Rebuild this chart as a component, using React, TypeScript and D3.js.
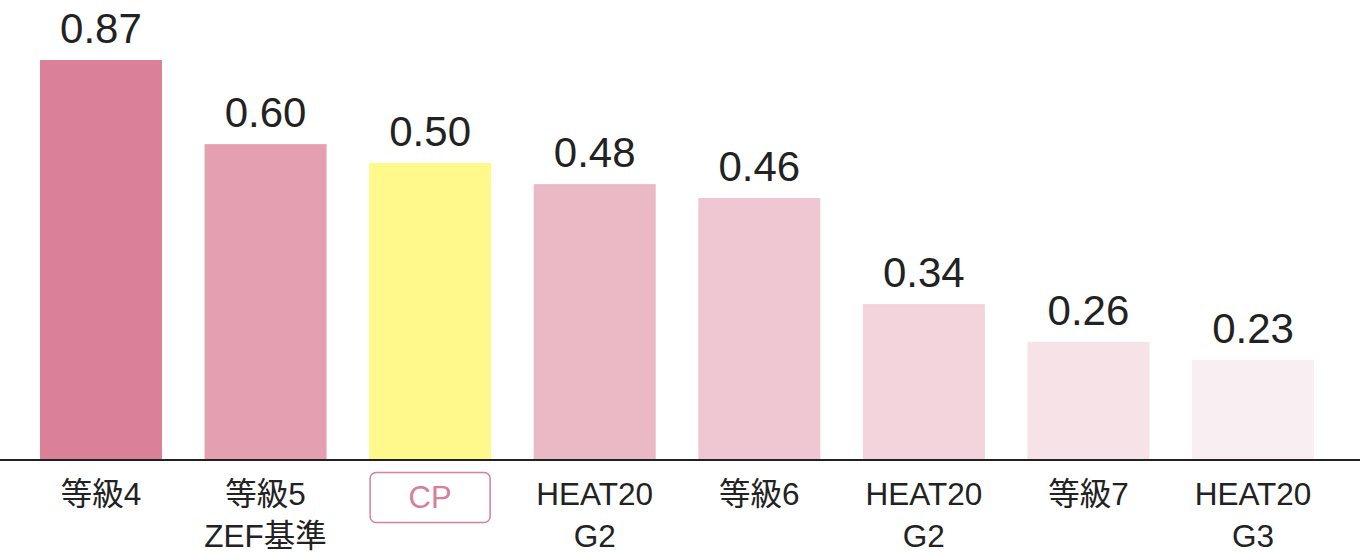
import React from "react";
import * as d3 from "d3";

// Category labels (lines)
const categories: string[][] = [
  ["等級4"],
  ["等級5", "ZEF基準"],
  ["CP"],
  ["HEAT20", "G2"],
  ["等級6"],
  ["HEAT20", "G2"],
  ["等級7"],
  ["HEAT20", "G3"],
];
// Displayed values
const valueLabels: string[] = ["0.87", "0.60", "0.50", "0.48", "0.46", "0.34", "0.26", "0.23"];
// Visual bar lengths as drawn in the reference (not proportional to labels)
const barLevels: number[] = [0.87, 0.687, 0.646, 0.6, 0.57, 0.339, 0.257, 0.2175];
const barColors: string[] = [
  "#da8099",
  "#e49fb1",
  "#fff98c",
  "#ebb8c5",
  "#efc7d2",
  "#f3d4dd",
  "#f7e2e8",
  "#f9eef1",
];
const highlightIndex = 2;

const W = 1360;
const H = 554;
const baseY = 460;
const topY = 60;
const FONT = "'Liberation Sans', 'Noto Sans CJK JP', sans-serif";

export default function App() {
  const idx = categories.map((_, i) => String(i));
  const x = d3
    .scaleBand<string>()
    .domain(idx)
    .range([18.7, 1335.3])
    .paddingInner(0.2587)
    .paddingOuter(0.1293);
  const y = d3.scaleLinear().domain([0, 0.87]).range([baseY, topY]);
  const bw = x.bandwidth();

  return (
    <svg
      width={W}
      height={H}
      style={{ position: "absolute", left: 0, top: 0, background: "#fff" }}
      fontFamily={FONT}
    >
      {barLevels.map((v, i) => {
        const x0 = x(String(i))!;
        return (
          <g key={i}>
            <rect x={x0} y={y(v)} width={bw} height={baseY - y(v)} fill={barColors[i]} />
            <text
              x={x0 + bw / 2}
              y={y(v) - 17}
              textAnchor="middle"
              fontSize={42}
              fill="#222"
            >
              {valueLabels[i]}
            </text>
          </g>
        );
      })}
      <line x1={0} x2={W} y1={baseY} y2={baseY} stroke="#222" strokeWidth={2} />
      {categories.map((lines, i) => {
        const cx = x(String(i))! + bw / 2;
        if (i === highlightIndex) {
          return (
            <g key={i}>
              <rect
                x={cx - 60}
                y={472.5}
                width={120}
                height={50}
                rx={6}
                fill="#fff"
                stroke="#d6809a"
                strokeWidth={1.5}
              />
              <text x={cx} y={508} textAnchor="middle" fontSize={31} fill="#d6809a">
                {lines[0]}
              </text>
            </g>
          );
        }
        return (
          <text key={i} x={cx} textAnchor="middle" fontSize={31.5} fill="#222">
            {lines.map((l, j) => (
              <tspan key={j} x={cx} y={505 + j * 42}>
                {l}
              </tspan>
            ))}
          </text>
        );
      })}
    </svg>
  );
}
